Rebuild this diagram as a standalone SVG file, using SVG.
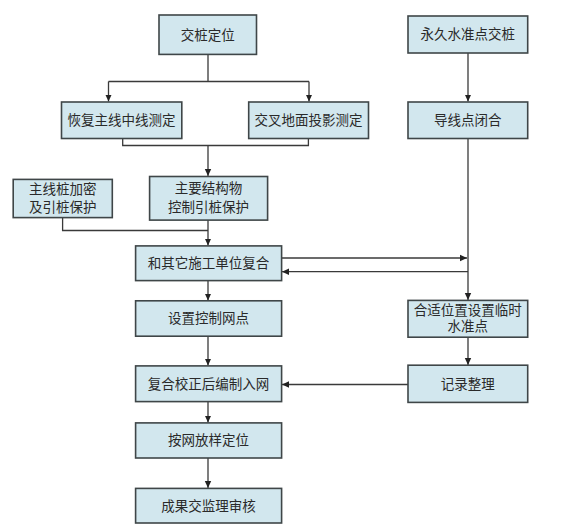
<svg xmlns="http://www.w3.org/2000/svg" width="561" height="524" viewBox="0 0 561 524">
<defs>
<style>
.box{fill:#d2e7ee;stroke:#3f4648;stroke-width:1.6}
.t{font-family:"Liberation Serif","Noto Sans CJK SC",serif;font-size:13.5px;fill:#2a2a2a;text-anchor:middle;dominant-baseline:central}
.c{fill:none;stroke:#3a3a3a;stroke-width:1.3}
</style>
<marker id="a" markerWidth="8" markerHeight="8" refX="7" refY="4" orient="auto" markerUnits="userSpaceOnUse">
<path d="M0,0.8 L7,4 L0,7.2 Z" fill="#222"/>
</marker>
</defs>
<rect width="561" height="524" fill="#fff"/>
<g id="connectors">
<path class="c" d="M208,54 V81.5 M108.5,81.5 H309" />
<path class="c" d="M108.5,81.5 V101.5" marker-end="url(#a)"/>
<path class="c" d="M309,81.5 V101.5" marker-end="url(#a)"/>
<path class="c" d="M468,53 V101.5" marker-end="url(#a)"/>
<path class="c" d="M122.7,138.5 V145.5 H308.4 V138.5"/>
<path class="c" d="M208,145.5 V176" marker-end="url(#a)"/>
<path class="c" d="M62.6,217.6 V230.5 H208"/>
<path class="c" d="M208,220 V245.5" marker-end="url(#a)"/>
<path class="c" d="M281.6,258 H467" marker-end="url(#a)"/>
<path class="c" d="M468,271.7 H282" marker-end="url(#a)"/>
<path class="c" d="M468,138.5 V300" marker-end="url(#a)"/>
<path class="c" d="M208,280.6 V300.5" marker-end="url(#a)"/>
<path class="c" d="M208,336.2 V365.5" marker-end="url(#a)"/>
<path class="c" d="M468,337.2 V365" marker-end="url(#a)"/>
<path class="c" d="M408,384.5 H282" marker-end="url(#a)"/>
<path class="c" d="M208,401.6 V422.5" marker-end="url(#a)"/>
<path class="c" d="M208,458 V488" marker-end="url(#a)"/>
</g>
<g id="n1"><rect class="box" x="159" y="15" width="97.5" height="39.4"/><text class="t" x="207.7" y="35">交桩定位</text></g>
<g id="n2"><rect class="box" x="408" y="16" width="119.7" height="37"/><text class="t" x="467.8" y="34.7">永久水准点交桩</text></g>
<g id="n3"><rect class="box" x="61.5" y="102" width="120.3" height="36.5"/><text class="t" x="121.6" y="120.4">恢复主线中线测定</text></g>
<g id="n4"><rect class="box" x="248.7" y="102" width="119.8" height="36.5"/><text class="t" x="308.6" y="120.4">交叉地面投影测定</text></g>
<g id="n5"><rect class="box" x="408" y="102" width="119.7" height="36.5"/><text class="t" x="467.8" y="120.4">导线点闭合</text></g>
<g id="n6"><rect class="box" x="13.2" y="179.4" width="99.1" height="38.2"/><text class="t" x="62.8" y="189">主线桩加密</text><text class="t" x="62.8" y="207">及引桩保护</text></g>
<g id="n7"><rect class="box" x="149.6" y="176.5" width="118" height="43.6"/><text class="t" x="208.6" y="188">主要结构物</text><text class="t" x="208.6" y="207">控制引桩保护</text></g>
<g id="n8"><rect class="box" x="135.6" y="245.9" width="146" height="34.7"/><text class="t" x="208.6" y="263.7">和其它施工单位复合</text></g>
<g id="n9"><rect class="box" x="135.6" y="300.8" width="146" height="35.4"/><text class="t" x="208.6" y="318.8">设置控制网点</text></g>
<g id="n10"><rect class="box" x="408" y="300.4" width="119.7" height="36.8"/><text class="t" x="467.8" y="310.8">合适位置设置临时</text><text class="t" x="467.8" y="326.8">水准点</text></g>
<g id="n11"><rect class="box" x="135.6" y="365.9" width="146" height="35.7"/><text class="t" x="208.6" y="384">复合校正后编制入网</text></g>
<g id="n12"><rect class="box" x="408" y="365.2" width="119.7" height="37.2"/><text class="t" x="467.8" y="384">记录整理</text></g>
<g id="n13"><rect class="box" x="135.6" y="422.9" width="146" height="35.1"/><text class="t" x="208.6" y="440.7">按网放样定位</text></g>
<g id="n14"><rect class="box" x="135.6" y="488.4" width="146" height="34.6"/><text class="t" x="208.6" y="506">成果交监理审核</text></g>
</svg>
